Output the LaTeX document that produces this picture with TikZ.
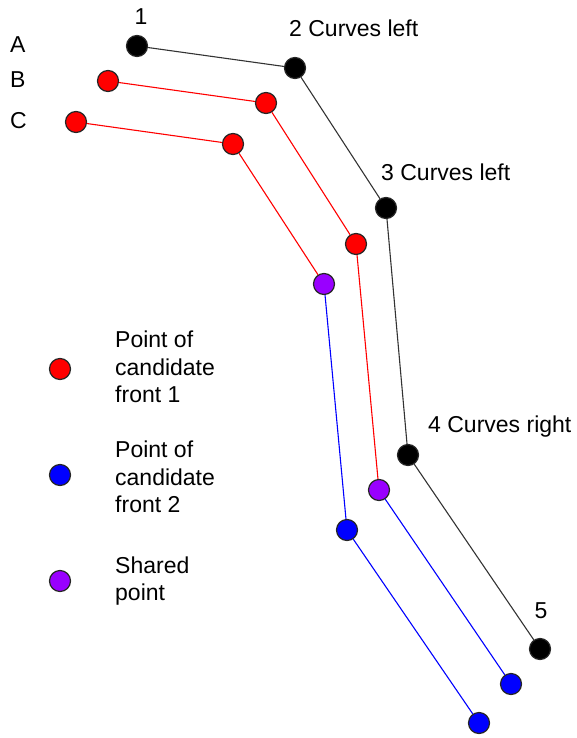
\documentclass[tikz,border=0pt]{standalone}
\usepackage{fontspec}
\setmainfont{Liberation Sans}
\definecolor{ptred}{HTML}{FF0000}
\definecolor{ptblue}{HTML}{0000FF}
\definecolor{ptpurple}{HTML}{9900FF}
\begin{document}
\begin{tikzpicture}[
                x=1pt, y=-1pt,
                dot/.style={
                        draw=black!85, line width=1.2pt, circle,
                        minimum size=21pt,
                        inner sep=0pt
                    },
                blackdot/.style={dot, fill=black},
                reddot/.style={dot, fill=ptred},
                bluedot/.style={dot, fill=ptblue},
                shareddot/.style={dot, fill=ptpurple},
                label/.style={
                        inner sep=0pt, anchor=west, align=left,
                        font=\fontsize{23}{27.5}\selectfont
                    },
                front/.style={line width=1.1pt}
            ]

            \useasboundingbox (0, 0) rectangle (576, 738);

            % Row A
            \node[blackdot] (a1) at (137, 46) {};
            \node[blackdot] (a2) at (295, 68) {};
            \node[blackdot] (a3) at (386, 208) {};
            \node[blackdot] (a4) at (408, 455) {};
            \node[blackdot] (a5) at (540, 649) {};

            % Row B
            \node[reddot] (b1) at (108, 81) {};
            \node[reddot] (b2) at (266, 103) {};
            \node[reddot] (b3) at (356, 244) {};
            \node[shareddot] (b4) at (379, 490) {};
            \node[bluedot] (b5) at (511, 684) {};

            % Row C
            \node[reddot] (c1) at (76, 122) {};
            \node[reddot] (c2) at (233, 144) {};
            \node[shareddot] (c3) at (324, 284) {};
            \node[bluedot] (c4) at (347, 530) {};
            \node[bluedot] (c5) at (479, 723) {};

            \draw[front, black!80] (a1) -- (a2) -- (a3) -- (a4) -- (a5);
            \draw[front, ptred] (b1) -- (b2) -- (b3) -- (b4);
            \draw[front, ptblue] (b4) -- (b5);
            \draw[front, ptred] (c1) -- (c2) -- (c3);
            \draw[front, ptblue] (c3) -- (c4) -- (c5);

            % Row and point labels
            \node[label] (rowa) at (10, 45) {A};
            \node[label] (rowb) at (10, 80) {B};
            \node[label] (rowc) at (10, 121) {C};
            \node[label, anchor=center] (lab1) at (141, 17) {1};
            \node[label] (lab2) at (289, 28) {2 Curves left};
            \node[label] (lab3) at (381, 172) {3 Curves left};
            \node[label] (lab4) at (428, 427) {4 Curves right};
            \node[label, anchor=center] (lab5) at (541, 611) {5};

            % Legend
            \node[reddot] (key1) at (60, 369) {};
            \node[bluedot] (key2) at (60, 475) {};
            \node[shareddot] (key3) at (60, 581) {};
            \node[label] (keytext1) at (115, 367) {Point of\\candidate\\front 1};
            \node[label] (keytext2) at (115, 477) {Point of\\candidate\\front 2};
            \node[label] (keytext3) at (115, 581) {Shared\\point};

        \end{tikzpicture}
\end{document}
